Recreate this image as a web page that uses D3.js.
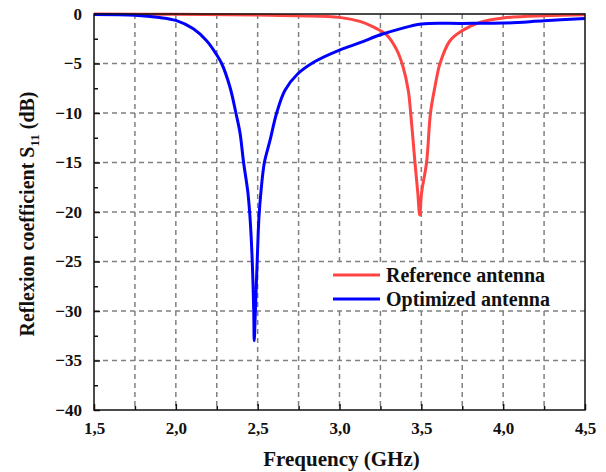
<!DOCTYPE html>
<html>
<head>
<meta charset="utf-8">
<script src="https://cdn.jsdelivr.net/npm/d3@7"></script>
<style>
  body { margin: 0; background: #fff; }
  text { font-family: "Liberation Serif", "Times New Roman", serif; font-weight: bold; fill: #111; }
</style>
</head>
<body>
<svg id="chart" width="606" height="472"></svg>
<script>
// values
var refFreq = [1.5, 2.0, 2.5, 2.75, 3.0, 3.125, 3.206, 3.288, 3.349, 3.386, 3.42, 3.435, 3.461, 3.478, 3.49, 3.502, 3.532, 3.556, 3.585, 3.614, 3.675, 3.75, 3.858, 4.0, 4.25, 4.5];
var refS11 = [-0.01, -0.03, -0.1, -0.18, -0.34, -0.75, -1.3, -2.1, -3.6, -5.2, -7.7, -10, -15, -18, -20.3, -18, -15, -10, -7.2, -5, -2.7, -1.68, -0.84, -0.4, -0.17, -0.08];

var optFreq = [1.5, 1.75, 1.9, 2.0, 2.107, 2.188, 2.245, 2.28, 2.331, 2.367, 2.392, 2.414, 2.44, 2.455, 2.467, 2.476, 2.479, 2.486, 2.497, 2.508, 2.521, 2.541, 2.575, 2.616, 2.667, 2.744, 2.85, 3.0, 3.125, 3.25, 3.37, 3.5, 3.75, 4.0, 4.25, 4.5];
var optS11 = [-0.05, -0.12, -0.35, -0.65, -1.5, -2.7, -4.0, -5, -7.4, -10, -12, -15, -18, -21, -25, -30, -33, -30, -25, -20.5, -17.8, -15, -12.8, -10, -7.7, -6.06, -4.8, -3.64, -2.9, -2.1, -1.5, -1.0, -0.95, -0.92, -0.68, -0.45];

var xTicks = [1.5, 2.0, 2.5, 3.0, 3.5, 4.0, 4.5];
var yTicks = [0, -5, -10, -15, -20, -25, -30, -35, -40];
var seriesNames = ["Reference antenna", "Optimized antenna"];
var seriesColors = ["#ff4444", "#0000ff"];

var svg = d3.select("#chart");
var mL = 94, mR = 585, mT = 14, mB = 410;

var x = d3.scaleLinear().domain([1.5, 4.5]).range([mL, mR]);
var y = d3.scaleLinear().domain([-40, 0]).range([mB, mT]);

var loc = d3.formatLocale({decimal: ",", thousands: ".", grouping: [3], currency: ["", ""]});
var fmt = loc.format(".1f");

// grid
var xGrid = d3.range(1.75, 4.5, 0.25);
svg.append("g").selectAll("line").data(xGrid).enter().append("line")
  .attr("x1", function(d) { return x(d); }).attr("x2", function(d) { return x(d); })
  .attr("y1", mT).attr("y2", mB)
  .attr("stroke", "#808080").attr("stroke-width", 1.5).attr("stroke-dasharray", "5,4");
svg.append("g").selectAll("line").data(yTicks.slice(1, -1)).enter().append("line")
  .attr("x1", mL).attr("x2", mR)
  .attr("y1", function(d) { return y(d); }).attr("y2", function(d) { return y(d); })
  .attr("stroke", "#808080").attr("stroke-width", 1.5).attr("stroke-dasharray", "5,4");

// axes, ticks inward
svg.append("g").attr("transform", "translate(0," + mB + ")")
  .call(d3.axisBottom(x).tickValues(xTicks).tickSize(-6).tickPadding(12).tickFormat(fmt));
svg.append("g").attr("transform", "translate(0," + mB + ")")
  .call(d3.axisBottom(x).tickValues(d3.range(1.75, 4.5, 0.5)).tickSize(-4).tickFormat(""));
svg.append("g").attr("transform", "translate(" + mL + ",0)")
  .call(d3.axisLeft(y).tickValues(yTicks).tickSize(-6).tickPadding(12).tickFormat(d3.format("d")));
svg.append("g").attr("transform", "translate(" + mL + ",0)")
  .call(d3.axisLeft(y).tickValues(d3.range(-37.5, 0, 5)).tickSize(-4).tickFormat(""));
svg.selectAll(".domain").remove();
svg.selectAll(".tick line").attr("stroke", "#111").attr("stroke-width", 1.5);
svg.selectAll(".tick text").attr("font-size", null).attr("font-family", null)
  .style("font-size", "17px").attr("fill", "#111");

// curves
var line = d3.line()
  .x(function(d) { return x(d[0]); })
  .y(function(d) { return y(d[1]); })
  .curve(d3.curveCatmullRom.alpha(0.5));

var plot = svg.append("g");
plot.append("path").datum(d3.zip(refFreq, refS11))
  .attr("d", line).attr("fill", "none")
  .attr("stroke", seriesColors[0]).attr("stroke-width", 3);
plot.append("path").datum(d3.zip(optFreq, optS11))
  .attr("d", line).attr("fill", "none")
  .attr("stroke", seriesColors[1]).attr("stroke-width", 3);

// frame
svg.append("rect").attr("x", mL).attr("y", mT)
  .attr("width", mR - mL).attr("height", mB - mT)
  .attr("fill", "none").attr("stroke", "#111").attr("stroke-width", 1.5);

// legend
var lg = svg.append("g");
lg.append("rect").attr("x", 331).attr("y", 264).attr("width", 252).attr("height", 44).attr("fill", "#fff");
seriesNames.forEach(function(name, i) {
  var ly = 275 + i * 24;
  lg.append("line").attr("x1", 333).attr("x2", 380).attr("y1", ly).attr("y2", ly)
    .attr("stroke", seriesColors[i]).attr("stroke-width", 3);
  lg.append("text").attr("x", 386).attr("y", ly).attr("dy", "0.35em")
    .style("font-size", "20px").text(name);
});

// axis titles
svg.append("text").attr("x", (mL + mR) / 2 + 2).attr("y", 466)
  .attr("text-anchor", "middle").style("font-size", "21px").text("Frequency (GHz)");

var yt = svg.append("text").attr("transform", "translate(34," + ((mT + mB) / 2 + 2) + ") rotate(-90)")
  .attr("text-anchor", "middle").style("font-size", "20px");
yt.append("tspan").text("Reflexion coefficient S");
yt.append("tspan").attr("dy", 5).style("font-size", "13px").text("11");
yt.append("tspan").attr("dy", -5).text(" (dB)");
</script>
</body>
</html>
